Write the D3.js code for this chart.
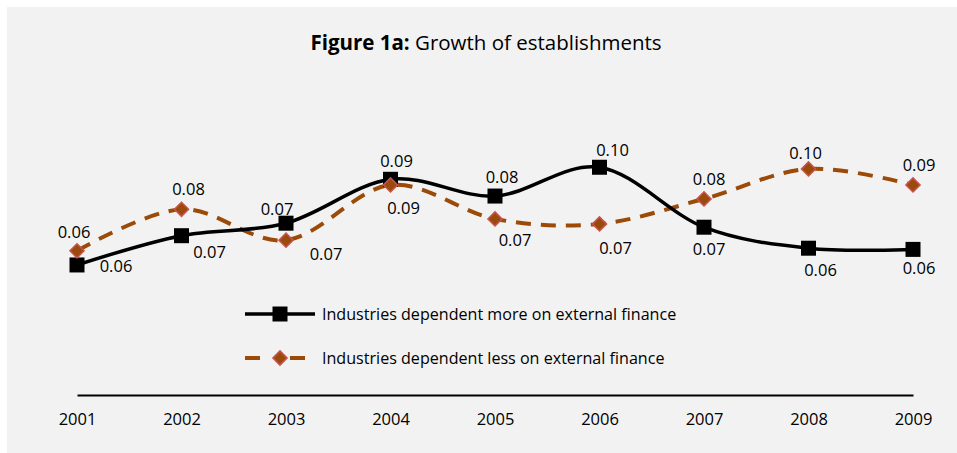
<!DOCTYPE html>
<html>
<head>
<meta charset="utf-8">
<script src="https://cdn.jsdelivr.net/npm/d3@7"></script>
<style>
  body { margin: 0; background: #fff; }
  text { font-family: "Open Sans", "Noto Sans", sans-serif; fill: #000; }
</style>
</head>
<body>
<div id="chart"></div>
<script>
// data
var years = ["2001", "2002", "2003", "2004", "2005", "2006", "2007", "2008", "2009"];
var moreDependent = [0.0551, 0.0675, 0.0728, 0.0914, 0.0843, 0.0965, 0.0711, 0.0622, 0.0617];
var lessDependent = [0.0611, 0.0787, 0.0656, 0.0890, 0.0746, 0.0725, 0.0831, 0.0958, 0.0890];
var seriesNames = ["Industries dependent more on external finance",
                   "Industries dependent less on external finance"];

// where each data label sits relative to its marker (px)
var moreLabelOffset = [[39, 1], [28, 16], [-9, -14], [6, -18], [7, -19], [13, -17], [5, 22], [12, 22], [6, 19]];
var lessLabelOffset = [[-3, -19], [7, -20], [40, 14], [13, 23], [20, 21], [16, 24], [5, -20], [-3, -16], [6, -20]];

var W = 957, H = 453;

var svg = d3.select("#chart").append("svg")
    .attr("width", W)
    .attr("height", H);

// grey chart area
svg.append("rect")
    .attr("x", 7).attr("y", 7)
    .attr("width", W - 7).attr("height", H - 7)
    .attr("fill", "#f2f2f2");

var x = d3.scalePoint().domain(years).range([77, 913]);
var y = d3.scaleLinear().domain([0, 0.12]).range([395, 395 - 0.12 * 2360]);
var fmt = d3.format(".2f");

// title
var title = svg.append("text")
    .attr("x", 486).attr("y", 50)
    .attr("text-anchor", "middle")
    .style("font-size", "20.5px");
title.append("tspan").attr("font-weight", "bold").text("Figure 1a:");
title.append("tspan").text(" Growth of establishments");

// x axis (line + labels only)
var xAxis = svg.append("g")
    .attr("transform", "translate(0,395)")
    .call(d3.axisBottom(x).tickSize(0).tickPadding(18));
xAxis.select(".domain").attr("stroke", "#000").attr("stroke-width", 2);
xAxis.selectAll("text")
    .style("font-size", "16.5px")
    .style("font-family", "'Open Sans', sans-serif")
    .attr("fill", "#000");

var line = d3.line()
    .x(function(d, i) { return x(years[i]); })
    .y(function(d) { return y(d); })
    .curve(d3.curveCardinal);

var brown = "#9c4a08";
var diamondFill = "#9a4a0a";
var diamondStroke = "#c85450";

// less dependent (dashed, diamonds)
svg.append("path")
    .datum(lessDependent)
    .attr("d", line)
    .attr("fill", "none")
    .attr("stroke", brown)
    .attr("stroke-width", 4)
    .attr("stroke-dasharray", "15,10");

// more dependent (solid, squares)
svg.append("path")
    .datum(moreDependent)
    .attr("d", line)
    .attr("fill", "none")
    .attr("stroke", "#000")
    .attr("stroke-width", 3.5);

var square = d3.symbol().type(d3.symbolSquare).size(225);
var diamond = d3.symbol().type(d3.symbolSquare).size(100);

svg.selectAll(".sq")
    .data(moreDependent)
    .enter().append("path")
    .attr("class", "sq")
    .attr("d", square)
    .attr("transform", function(d, i) { return "translate(" + x(years[i]) + "," + y(d) + ")"; })
    .attr("fill", "#000");

svg.selectAll(".dm")
    .data(lessDependent)
    .enter().append("path")
    .attr("class", "dm")
    .attr("d", diamond)
    .attr("transform", function(d, i) { return "translate(" + x(years[i]) + "," + y(d) + ") rotate(45)"; })
    .attr("fill", diamondFill)
    .attr("stroke", diamondStroke)
    .attr("stroke-width", 1.5);

// data labels
function addLabels(values, offsets, cls) {
  svg.selectAll("." + cls)
      .data(values)
      .enter().append("text")
      .attr("class", cls)
      .attr("x", function(d, i) { return x(years[i]) + offsets[i][0]; })
      .attr("y", function(d, i) { return y(d) + offsets[i][1]; })
      .attr("dy", "0.36em")
      .attr("text-anchor", "middle")
      .style("font-size", "16.5px")
      .text(function(d) { return fmt(d); });
}
addLabels(moreDependent, moreLabelOffset, "lblMore");
addLabels(lessDependent, lessLabelOffset, "lblLess");

// legend
var legend = svg.append("g");
var lg1 = legend.append("g").attr("transform", "translate(0,314)");
lg1.append("line").attr("x1", 245).attr("x2", 315)
    .attr("stroke", "#000").attr("stroke-width", 3.5);
lg1.append("path").attr("d", square).attr("transform", "translate(280,0)").attr("fill", "#000");
lg1.append("text").attr("x", 322).attr("dy", "0.36em")
    .style("font-size", "16.1px").text(seriesNames[0]);

var lg2 = legend.append("g").attr("transform", "translate(0,358)");
lg2.append("line").attr("x1", 245).attr("x2", 315)
    .attr("stroke", brown).attr("stroke-width", 4)
    .attr("stroke-dasharray", "15,10,0,20,15");
lg2.append("path").attr("d", diamond).attr("transform", "translate(280,0) rotate(45)")
    .attr("fill", diamondFill).attr("stroke", diamondStroke).attr("stroke-width", 1.5);
lg2.append("text").attr("x", 322).attr("dy", "0.36em")
    .style("font-size", "16.1px").text(seriesNames[1]);
</script>
</body>
</html>
